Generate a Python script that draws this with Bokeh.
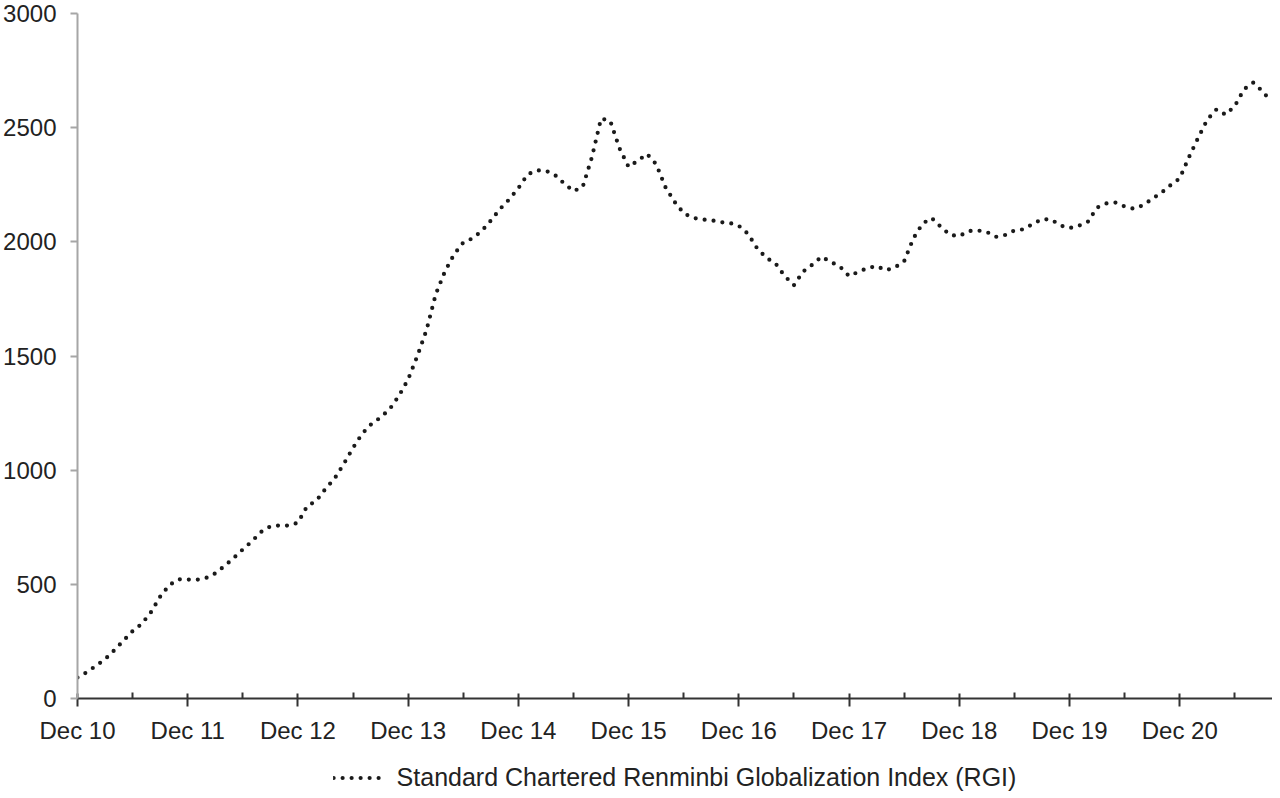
import numpy as np
from bokeh.plotting import figure
from bokeh.layouts import column
from bokeh.models import Range1d, FixedTicker, Legend, LegendItem
from bokeh.embed import file_html
from bokeh.resources import INLINE

# Standard Chartered Renminbi Globalization Index, monthly from Dec 2010 to Oct 2021
rgi = [
    92, 115, 143, 172, 211, 253, 295, 327, 378, 446, 497, 522,          # Dec10 - Nov11
    521, 520, 528, 548, 580, 615, 653, 689, 730, 754, 758, 757,         # Dec11 - Nov12
    770, 842, 866, 918, 964, 1028, 1098, 1160, 1202, 1231, 1268, 1326,  # Dec12 - Nov13
    1398, 1500, 1614, 1770, 1870, 1945, 1997, 2015, 2047, 2093, 2144, 2186,  # Dec13 - Nov14
    2235, 2295, 2313, 2311, 2292, 2255, 2222, 2240, 2370, 2540, 2530, 2410,  # Dec14 - Nov15
    2328, 2355, 2385, 2340, 2240, 2175, 2125, 2105, 2098, 2095, 2086, 2083,  # Dec15 - Nov16
    2070, 2035, 1971, 1930, 1905, 1850, 1810, 1870, 1900, 1935, 1912, 1892,  # Dec16 - Nov17
    1850, 1868, 1885, 1894, 1875, 1888, 1915, 2015, 2080, 2104, 2065, 2030,  # Dec17 - Nov18
    2025, 2047, 2050, 2043, 2022, 2030, 2050, 2055, 2078, 2099, 2098, 2072,  # Dec18 - Nov19
    2060, 2070, 2088, 2150, 2168, 2172, 2155, 2145, 2160, 2188, 2215, 2248,  # Dec19 - Nov20
    2278, 2370, 2455, 2535, 2580, 2557, 2595, 2668, 2697, 2660, 2612,        # Dec20 - Oct21
]
month_idx = list(range(len(rgi)))

year_ticks = [0, 12, 24, 36, 48, 60, 72, 84, 96, 108, 120]
year_labels = ["Dec 10", "Dec 11", "Dec 12", "Dec 13", "Dec 14", "Dec 15",
               "Dec 16", "Dec 17", "Dec 18", "Dec 19", "Dec 20"]
half_ticks = [6, 18, 30, 42, 54, 66, 78, 90, 102, 114, 126]
y_ticks = [0, 500, 1000, 1500, 2000, 2500, 3000]

legend_label = "Standard Chartered Renminbi Globalization Index (RGI)"

FONT = "Liberation Sans"
LINE_STYLE = dict(line_color="#1a1a1a", line_width=4.2, line_dash="0 9", line_cap="round")

p = figure(width=1272, height=762, output_backend="svg", toolbar_location=None,
           x_range=Range1d(0, 130.1), y_range=Range1d(0, 3000),
           min_border_left=75, min_border_right=0, min_border_top=13, min_border_bottom=64)
p.outline_line_color = None
p.xgrid.grid_line_color = None
p.ygrid.grid_line_color = None

p.line(month_idx, rgi, **LINE_STYLE)

# x axis
xa = p.xaxis[0]
xa.ticker = FixedTicker(ticks=year_ticks, minor_ticks=half_ticks)
xa.major_label_overrides = dict(zip(year_ticks, year_labels))
xa.axis_line_color = "#333333"
xa.axis_line_width = 2
xa.major_tick_line_color = "#333333"
xa.major_tick_line_width = 2
xa.major_tick_in = 5
xa.major_tick_out = 8
xa.minor_tick_line_color = "#333333"
xa.minor_tick_line_width = 2
xa.minor_tick_in = 6
xa.minor_tick_out = 0
xa.major_label_standoff = 10
xa.major_label_text_font = FONT
xa.major_label_text_font_size = "24px"
xa.major_label_text_color = "#222222"

# y axis
ya = p.yaxis[0]
ya.ticker = FixedTicker(ticks=y_ticks)
ya.axis_line_color = "#a6a6a6"
ya.axis_line_width = 2
ya.major_tick_line_color = "#a6a6a6"
ya.major_tick_line_width = 2
ya.major_tick_in = 0
ya.major_tick_out = 7
ya.minor_tick_line_color = None
ya.major_label_standoff = 14
ya.major_label_text_font = FONT
ya.major_label_text_font_size = "24px"
ya.major_label_text_color = "#222222"

# legend strip under the chart, same frame width so it centres on the plot area
lg = figure(width=1272, height=30, output_backend="svg", toolbar_location=None,
            x_range=Range1d(0, 1), y_range=Range1d(0, 1),
            min_border_left=75, min_border_right=0, min_border_top=0, min_border_bottom=0)
lg.axis.visible = False
lg.grid.visible = False
lg.outline_line_color = None
# key renderer: a single point (out of this strip's range) just to carry the line style
key = lg.line(month_idx[-1:], rgi[-1:], **LINE_STYLE)

legend = Legend(items=[LegendItem(label=legend_label, renderers=[key])],
                location="center", orientation="horizontal",
                glyph_width=50, glyph_height=24, label_standoff=14,
                padding=0, margin=0, border_line_color=None,
                background_fill_alpha=0,
                label_text_font=FONT, label_text_font_size="25px",
                label_text_color="#222222")
lg.add_layout(legend, "center")

layout = column(p, lg, spacing=0)
open("out.html", "w").write(file_html(layout, INLINE))
